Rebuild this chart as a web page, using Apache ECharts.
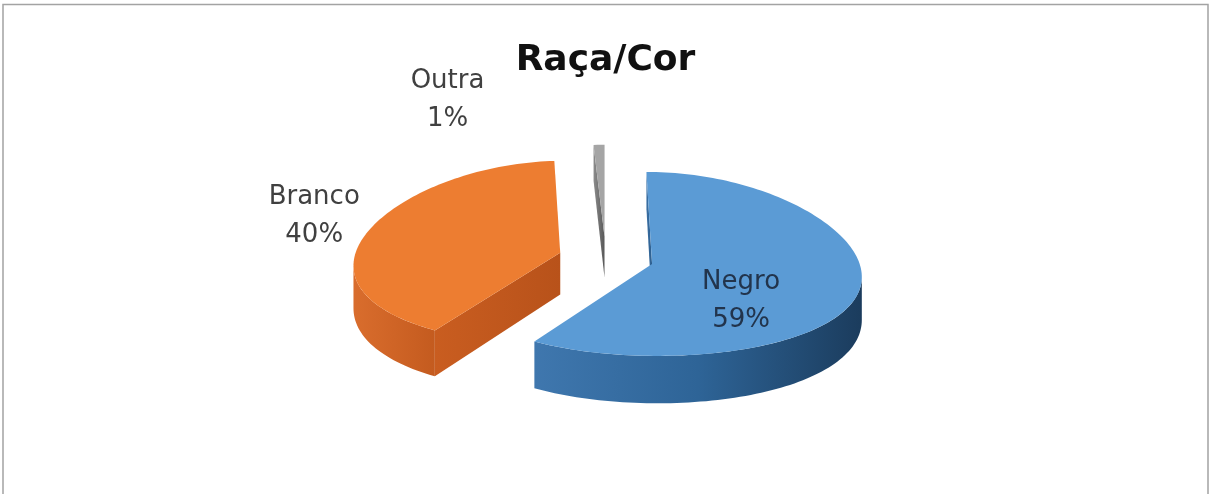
<!DOCTYPE html>
<html>
<head>
<meta charset="utf-8">
<style>
  html, body { margin: 0; padding: 0; background: #ffffff; }
  #chart { width: 1211px; height: 494px; }
</style>
<script src="https://cdn.jsdelivr.net/npm/echarts@6/dist/echarts.min.js"></script>
</head>
<body>
<div id="chart"></div>
<script>
// Distribution by race/colour
const categories = ['Negro', 'Branco', 'Outra'];
const values = [59, 40, 1];
const chartTitle = 'Raça/Cor';

// Geometry of the tilted (3-D looking) pie
const CX = 606, CY = 258;      // pie centre before explosion
const R = 206;                 // horizontal radius at the centre depth
const RY = 92;                 // vertical radius of the top face
const DEPTH = 42;              // thickness of the pie
const EXPLODE = 0.231;         // slice offset, fraction of radius
const PERSP = 0.12;            // horizontal shrink per unit of depth
const VPX = 605;               // horizontal vanishing point

// Colours: top face, outer wall gradient, cut face gradient
const palette = [
  { top: '#5b9bd5', wall: ['#3f77ae', '#2e6497', '#1b3c5d'], cut: ['#3a70a5', '#2a5b8a'], label: '#22344c' },
  { top: '#ed7d31', wall: ['#d96d2d', '#cf6426', '#c45b1f'], cut: ['#c95d20', '#b8521a'], label: '#404040' },
  { top: '#a5a5a5', wall: ['#8a8a8a', '#7a7a7a', '#6a6a6a'], cut: ['#8c8c8c', '#555555'], label: '#404040' }
];

// Label placement relative to each slice's apex
const labelOffsets = [[89, 37], [-246, -36], [-157, -137]];

const total = values.reduce((s, v) => s + v, 0);

function sliceAngles(idx) {
  let start = 0;
  for (let j = 0; j < idx; j++) start += values[j];
  const a0 = start / total * Math.PI * 2;
  const a1 = (start + values[idx]) / total * Math.PI * 2;
  return [a0, a1];
}

// world point (X in px, V = depth towards the back, h = 0 top / 1 bottom) -> screen
function project(X, V, h) {
  const s = 1 - PERSP * V;
  return [VPX + (X - VPX) * s, CY - RY * V + h * DEPTH * s];
}

function hGradient(x0, x1, colors) {
  const stops = colors.map((c, k) => ({ offset: colors.length === 1 ? 0 : k / (colors.length - 1), color: c }));
  return new echarts.graphic.LinearGradient(x0, 0, x1, 0, stops, true);
}

function renderSlice(params, api) {
  const idx = params.dataIndex;
  const value = api.value(0);
  const [a0, a1] = sliceAngles(idx);
  const mid = (a0 + a1) / 2;
  const ax = CX + EXPLODE * R * Math.sin(mid);
  const av = EXPLODE * Math.cos(mid);
  const col = palette[idx];
  const rim = (a, h) => project(ax + R * Math.sin(a), av + Math.cos(a), h);
  const apex = h => project(ax, av, h);
  const arc = (from, to, h) => {
    const pts = [];
    const steps = Math.max(2, Math.ceil(Math.abs(to - from) / (Math.PI / 120)));
    for (let k = 0; k <= steps; k++) pts.push(rim(from + (to - from) * k / steps, h));
    return pts;
  };
  const base = Math.round(apex(0)[1]) * 10;
  const children = [];
  const camDist = 1 / PERSP;

  // silhouette angles of this slice's full disc (left-most and right-most rim points)
  let right = Math.PI / 2, left = Math.PI * 1.5, maxX = -Infinity, minX = Infinity;
  for (let k = 0; k < 3600; k++) {
    const a = k / 3600 * Math.PI * 2;
    const x = rim(a, 0)[0];
    if (x > maxX) { maxX = x; right = a; }
    if (x < minX) { minX = x; left = a; }
  }

  // cut faces turned towards the viewer
  [[a0, a0 - Math.PI / 2], [a1, a1 + Math.PI / 2]].forEach(([ang, n]) => {
    const fx = ax + R * Math.sin(ang) / 2, fv = av + Math.cos(ang) / 2;
    const facing = Math.sin(n) * (VPX - fx) / R - Math.cos(n) * (camDist + fv);
    if (facing > 0) {
      const p0 = apex(0), p1 = rim(ang, 0), p2 = rim(ang, 1), p3 = apex(1);
      children.push({
        type: 'polygon', z2: base + 1,
        shape: { points: [p0, p1, p2, p3] },
        style: { fill: hGradient(Math.min(p0[0], p1[0]), Math.max(p0[0], p1[0]) + 0.5, col.cut) }
      });
    }
  });

  // outer wall: the front part of the rim between the two silhouette points
  const lo = Math.max(a0, right), hi = Math.min(a1, left);
  if (hi > lo) {
    const topArc = arc(lo, hi, 0);
    const botArc = arc(hi, lo, 1);
    const xs = botArc.map(p => p[0]);
    children.push({
      type: 'polygon', z2: base + 1,
      shape: { points: topArc.concat(botArc) },
      style: { fill: hGradient(Math.min(...xs), Math.max(...xs), col.wall) }
    });
  }

  // top face
  children.push({
    type: 'polygon', z2: base + 2,
    shape: { points: [apex(0)].concat(arc(a0, a1, 0)) },
    style: { fill: col.top }
  });

  // category + percentage label
  const pct = Math.round(value / total * 100) + '%';
  const ap = apex(0);
  children.push({
    type: 'text', z2: 100000,
    style: {
      text: categories[idx] + '\n' + pct,
      x: ap[0] + labelOffsets[idx][0],
      y: ap[1] + labelOffsets[idx][1],
      align: 'center',
      verticalAlign: 'middle',
      fontFamily: 'DejaVu Sans',
      fontSize: 26,
      lineHeight: 38,
      fill: col.label
    }
  });

  return { type: 'group', children };
}

const chart = echarts.init(document.getElementById('chart'), null, { renderer: 'canvas' });
chart.setOption({
  backgroundColor: '#ffffff',
  animation: false,
  title: {
    text: chartTitle,
    left: 'center',
    top: 40,
    padding: 0,
    textStyle: {
      fontFamily: 'DejaVu Sans',
      fontWeight: 'bold',
      fontSize: 36,
      lineHeight: 42,
      color: '#111111'
    }
  },
  graphic: [{
    type: 'rect',
    silent: true,
    shape: { x: 3, y: 4.5, width: 1205, height: 520 },
    style: { fill: 'none', stroke: '#a3a3a3', lineWidth: 1.5 }
  }],
  series: [{
    type: 'custom',
    coordinateSystem: 'none',
    renderItem: renderSlice,
    data: values.map((v, i) => ({ name: categories[i], value: [v] }))
  }]
});
</script>
</body>
</html>
